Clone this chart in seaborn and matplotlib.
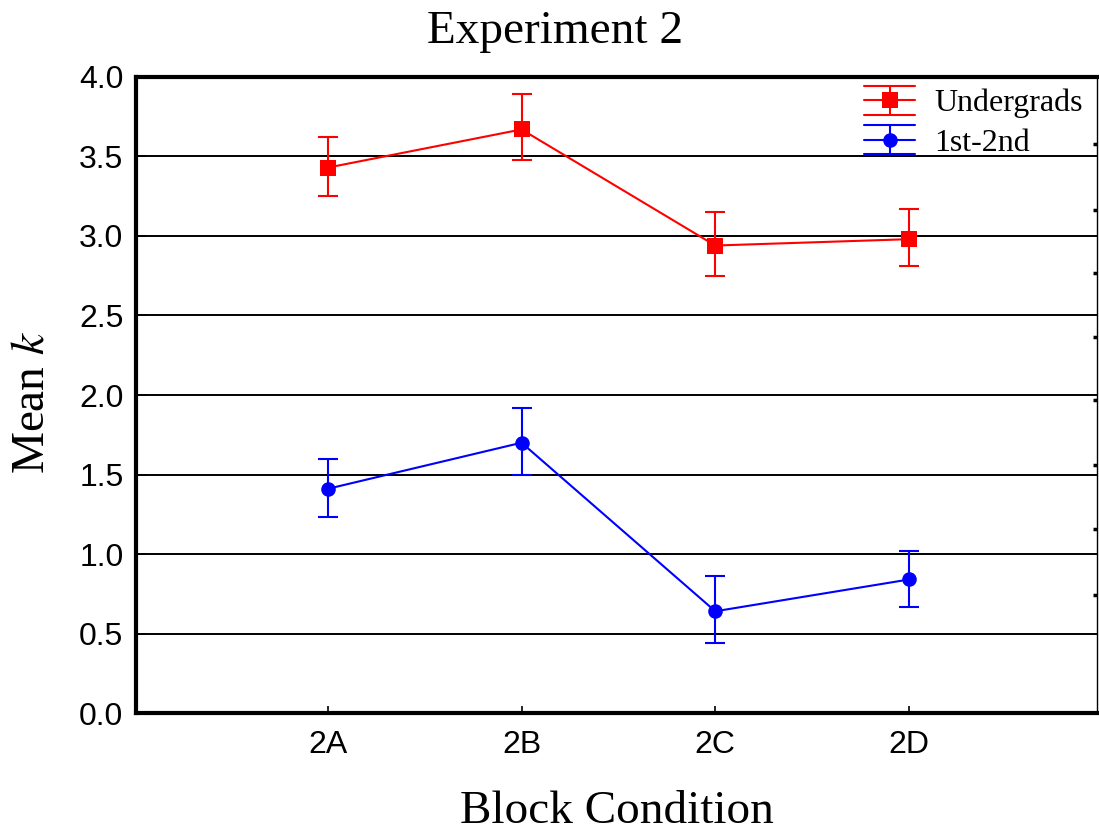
import numpy as np
import pandas as pd
import matplotlib
matplotlib.use("Agg")
import matplotlib.pyplot as plt
from matplotlib.lines import Line2D
from matplotlib.legend_handler import HandlerBase
import seaborn as sns

conditions = ["2A", "2B", "2C", "2D"]
undergrad_mean = [3.43, 3.67, 2.94, 2.98]
undergrad_low = [3.25, 3.48, 2.75, 2.81]
undergrad_high = [3.62, 3.89, 3.15, 3.17]
young_mean = [1.41, 1.70, 0.64, 0.84]
young_low = [1.23, 1.50, 0.44, 0.67]
young_high = [1.60, 1.92, 0.86, 1.02]
group_names = ["Undergrads", "1st-2nd"]
y_ticks = [0.0, 0.5, 1.0, 1.5, 2.0, 2.5, 3.0, 3.5, 4.0]

sns.set_theme(style="white")
plt.rcParams["font.family"] = ["Liberation Sans", "DejaVu Sans"]
plt.rcParams["text.color"] = "black"
plt.rcParams["mathtext.fontset"] = "stix"

serif = ["Liberation Serif", "DejaVu Serif"]

fig = plt.figure(figsize=(10.99, 8.33), dpi=100)
ax = fig.add_axes([0.1237, 0.144, 0.8745, 0.7636])

pos = np.arange(len(conditions))
df = pd.DataFrame({
    "pos": np.concatenate([pos, pos]),
    "mean": undergrad_mean + young_mean,
    "group": [group_names[0]] * 4 + [group_names[1]] * 4,
})

# horizontal rules at every 0.5
for yv in y_ticks[1:-1]:
    ax.axhline(yv, color="black", lw=1.4, zorder=1)

styles = {
    group_names[0]: ("#ff0000", "s", 11.5, undergrad_mean, undergrad_low, undergrad_high),
    group_names[1]: ("#0000ff", "o", 10.5, young_mean, young_low, young_high),
}
proxies = []
for name in group_names:
    col, mk, ms, m, lo, hi = styles[name]
    sub = df[df["group"] == name]
    sns.lineplot(data=sub, x="pos", y="mean", ax=ax, color=col, lw=1.5,
                 marker=mk, markersize=ms, markeredgewidth=0, zorder=3,
                 legend=False)
    m = np.array(m); lo = np.array(lo); hi = np.array(hi)
    ax.errorbar(pos, m, yerr=[m - lo, hi - m], fmt="none", ecolor=col,
                elinewidth=1.5, capsize=7, capthick=1.5, zorder=3)
    proxies.append(Line2D([], [], color=col, marker=mk, markersize=ms,
                          markeredgewidth=0, lw=1.5))


class ErrorbarKey(HandlerBase):
    """Legend key: horizontal line, vertical bar, full-width caps, marker."""

    def create_artists(self, legend, orig, xdescent, ydescent, width,
                       height, fontsize, trans):
        col = orig.get_color()
        x0, x1 = -xdescent, -xdescent + width
        cx = (x0 + x1) / 2
        cy = -ydescent + height / 2
        h = 10.5
        arts = [
            Line2D([x0, x1], [cy, cy], color=col, lw=1.5),
            Line2D([cx, cx], [cy - h, cy + h], color=col, lw=1.5),
            Line2D([x0, x1], [cy + h, cy + h], color=col, lw=1.5),
            Line2D([x0, x1], [cy - h, cy - h], color=col, lw=1.5),
            Line2D([cx], [cy], color=col, marker=orig.get_marker(),
                   markersize=orig.get_markersize(), markeredgewidth=0,
                   lw=0),
        ]
        for a in arts:
            a.set_transform(trans)
        return arts


ax.set_xlim(-0.99, 3.97)
ax.set_ylim(0, 4.0)
ax.set_xticks(pos)
ax.set_xticklabels(conditions)
ax.set_yticks(y_ticks)
ax.set_yticklabels([f"{v:.1f}" for v in y_ticks])
ax.set_xlabel("")
ax.set_ylabel("")
ax.tick_params(axis="both", direction="in", width=1.2, labelsize=23,
               colors="black", left=True, bottom=True)
ax.tick_params(axis="y", length=7, pad=9)
ax.tick_params(axis="x", length=5, pad=12)

for side, lw in [("left", 3), ("bottom", 3), ("top", 3), ("right", 1)]:
    ax.spines[side].set_visible(True)
    ax.spines[side].set_color("black")
    ax.spines[side].set_linewidth(lw)
    ax.spines[side].set_zorder(4)

# small inward marks along the right frame
ax2 = ax.twinx()
ax2.set_ylim(0, 1)
ax2.set_yticks([0.186, 0.289, 0.39, 0.492, 0.591, 0.692, 0.791, 0.895])
ax2.tick_params(axis="y", direction="in", length=3, width=2.5,
                labelright=False, right=True, colors="black")
ax2.grid(False)
ax2.set_ylabel("")
for s in ax2.spines.values():
    s.set_visible(False)

fig.text(555 / 1099, 1 - 43 / 833, "Experiment 2", family=serif,
         fontsize=34, ha="center", va="baseline")
fig.text(617 / 1099, 1 - 823 / 833, "Block Condition", family=serif,
         fontsize=34, ha="center", va="baseline")
fig.text(32 / 1099, 1 - 402 / 833, "Mean $k$", family=serif, fontsize=34,
         rotation=90, ha="center", va="center")

ax.legend(proxies, group_names, loc="upper right",
          bbox_to_anchor=(1083 / 1099, 1 - 86 / 833),
          bbox_transform=fig.transFigure, frameon=False,
          prop={"family": serif, "size": 23},
          handler_map={Line2D: ErrorbarKey()},
          handlelength=1.6, handleheight=1.0, labelspacing=0.23,
          handletextpad=0.6, borderpad=0, borderaxespad=0)

fig.savefig("out.png", dpi=100, facecolor="white")
